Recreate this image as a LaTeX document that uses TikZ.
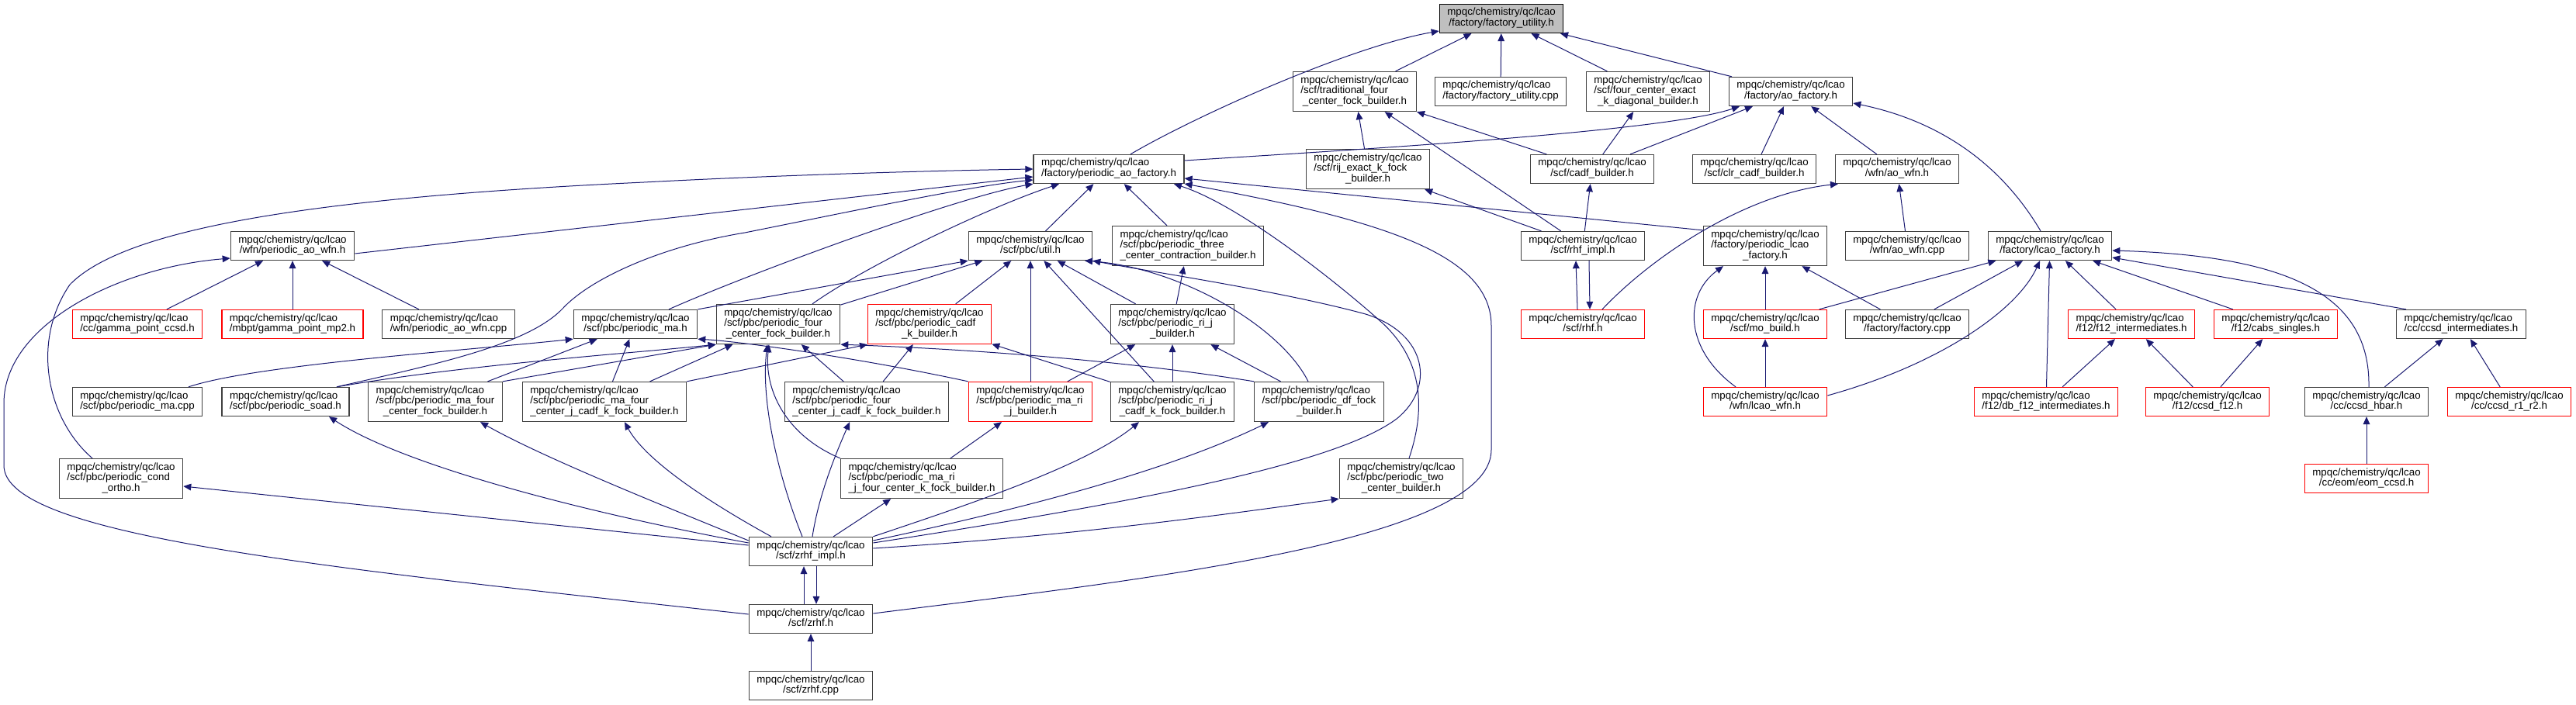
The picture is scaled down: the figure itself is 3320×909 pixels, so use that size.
\documentclass[tikz,border=0pt]{standalone}
\usepackage{fontspec}
\setmainfont{Liberation Sans}
\usepackage{tikz}
\usetikzlibrary{arrows.meta}

\definecolor{edgeblue}{HTML}{191970}
\definecolor{nodegray}{HTML}{404040}
\definecolor{rootgray}{HTML}{BFBFBF}

\newdimen\pxu \pxu=0.75pt

% labels: upper lines flush left, last line centred
\newcommand{\ftwo}[1]{\begin{tabular}{@{}c@{}}\multicolumn{1}{@{}l@{}}{mpqc/chemistry/qc/lcao}\\#1\end{tabular}}
\newcommand{\fthree}[2]{\begin{tabular}{@{}c@{}}\multicolumn{1}{@{}l@{}}{mpqc/chemistry/qc/lcao}\\\multicolumn{1}{@{}l@{}}{#1}\\#2\end{tabular}}

\begin{document}
\begin{tikzpicture}[x=0.75pt,y=-0.75pt,
  hdr/.style={rectangle,draw=nodegray,line width=1pt,fill=white,inner xsep=7.5pt,inner ysep=0pt,
              minimum height=27.75pt,font=\fontsize{10}{10}\selectfont},
  hdrtall/.style={hdr,minimum height=38.25pt},
  trunc/.style={draw=red},
  root/.style={fill=rootgray,draw=black},
  incl/.style={-{Triangle[length=7.5pt,width=6.5pt]},draw=edgeblue,line width=0.75pt},
]
\useasboundingbox (0,0) rectangle (3320,909);

% row 0
\node[hdr,root] (fu) at (1935,24) {\ftwo{/factory/factory\_utility.h}};
% row 1
\node[hdrtall] (tfcfb) at (1746,118) {\fthree{/scf/traditional\_four}{\_center\_fock\_builder.h}};
\node[hdr] (fucpp) at (1934,118) {\ftwo{/factory/factory\_utility.cpp}};
\node[hdrtall] (fcekdb) at (2124,118) {\fthree{/scf/four\_center\_exact}{\_k\_diagonal\_builder.h}};
\node[hdr] (aof) at (2308,118) {\ftwo{/factory/ao\_factory.h}};
% row 2
\node[hdr] (paof) at (1429,218) {\ftwo{/factory/periodic\_ao\_factory.h}};
\node[hdrtall] (rijk) at (1763,218) {\fthree{/scf/rij\_exact\_k\_fock}{\_builder.h}};
\node[hdr] (cadf) at (2052,218) {\ftwo{/scf/cadf\_builder.h}};
\node[hdr] (clr) at (2261,218) {\ftwo{/scf/clr\_cadf\_builder.h}};
\node[hdr] (aowfn) at (2445,218) {\ftwo{/wfn/ao\_wfn.h}};
% row 3
\node[hdr] (paowfn) at (377,317) {\ftwo{/wfn/periodic\_ao\_wfn.h}};
\node[hdr] (util) at (1328,317) {\ftwo{/scf/pbc/util.h}};
\node[hdrtall] (p3c) at (1531,317) {\fthree{/scf/pbc/periodic\_three}{\_center\_contraction\_builder.h}};
\node[hdr] (rhfimpl) at (2040,317) {\ftwo{/scf/rhf\_impl.h}};
\node[hdrtall] (plf) at (2275,317) {\fthree{/factory/periodic\_lcao}{\_factory.h}};
\node[hdr] (aowfncpp) at (2458,317) {\ftwo{/wfn/ao\_wfn.cpp}};
\node[hdr] (lf) at (2642,317) {\ftwo{/factory/lcao\_factory.h}};
% row 4
\node[hdr,trunc] (gpccsd) at (177,418) {\ftwo{/cc/gamma\_point\_ccsd.h}};
\node[hdr,trunc] (gpmp2) at (377,418) {\ftwo{/mbpt/gamma\_point\_mp2.h}};
\node[hdr] (paowfncpp) at (578,418) {\ftwo{/wfn/periodic\_ao\_wfn.cpp}};
\node[hdr] (pma) at (819,418) {\ftwo{/scf/pbc/periodic\_ma.h}};
\node[hdrtall] (p4cf) at (1003,418) {\fthree{/scf/pbc/periodic\_four}{\_center\_fock\_builder.h}};
\node[hdrtall,trunc] (pcadfk) at (1198,418) {\fthree{/scf/pbc/periodic\_cadf}{\_k\_builder.h}};
\node[hdrtall] (prij) at (1511,418) {\fthree{/scf/pbc/periodic\_ri\_j}{\_builder.h}};
\node[hdr,trunc] (rhf) at (2040,418) {\ftwo{/scf/rhf.h}};
\node[hdr,trunc] (mob) at (2275,418) {\ftwo{/scf/mo\_build.h}};
\node[hdr] (fcpp) at (2458,418) {\ftwo{/factory/factory.cpp}};
\node[hdr,trunc] (f12i) at (2747,418) {\ftwo{/f12/f12\_intermediates.h}};
\node[hdr,trunc] (cabs) at (2933,418) {\ftwo{/f12/cabs\_singles.h}};
\node[hdr] (ccsdi) at (3172,418) {\ftwo{/cc/ccsd\_intermediates.h}};
% row 5
\node[hdr] (pmacpp) at (177,518) {\ftwo{/scf/pbc/periodic\_ma.cpp}};
\node[hdr] (soad) at (368,518) {\ftwo{/scf/pbc/periodic\_soad.h}};
\node[hdrtall] (pma4cf) at (561,518) {\fthree{/scf/pbc/periodic\_ma\_four}{\_center\_fock\_builder.h}};
\node[hdrtall] (pma4cjk) at (779,518) {\fthree{/scf/pbc/periodic\_ma\_four}{\_center\_j\_cadf\_k\_fock\_builder.h}};
\node[hdrtall] (p4cjk) at (1117,518) {\fthree{/scf/pbc/periodic\_four}{\_center\_j\_cadf\_k\_fock\_builder.h}};
\node[hdrtall,trunc] (pmarij) at (1328,518) {\fthree{/scf/pbc/periodic\_ma\_ri}{\_j\_builder.h}};
\node[hdrtall] (prijk) at (1511,518) {\fthree{/scf/pbc/periodic\_ri\_j}{\_cadf\_k\_fock\_builder.h}};
\node[hdrtall] (pdf) at (1700,518) {\fthree{/scf/pbc/periodic\_df\_fock}{\_builder.h}};
\node[hdr,trunc] (lwfn) at (2275,518) {\ftwo{/wfn/lcao\_wfn.h}};
\node[hdr,trunc] (dbf12) at (2637,518) {\ftwo{/f12/db\_f12\_intermediates.h}};
\node[hdr,trunc] (ccsdf12) at (2845,518) {\ftwo{/f12/ccsd\_f12.h}};
\node[hdr] (hbar) at (3050,518) {\ftwo{/cc/ccsd\_hbar.h}};
\node[hdr,trunc] (r1r2) at (3234,518) {\ftwo{/cc/ccsd\_r1\_r2.h}};
% row 6
\node[hdrtall] (cortho) at (156,617) {\fthree{/scf/pbc/periodic\_cond}{\_ortho.h}};
\node[hdrtall] (pmarij4k) at (1188,617) {\fthree{/scf/pbc/periodic\_ma\_ri}{\_j\_four\_center\_k\_fock\_builder.h}};
\node[hdrtall] (p2c) at (1806,617) {\fthree{/scf/pbc/periodic\_two}{\_center\_builder.h}};
\node[hdr,trunc] (eom) at (3050,617) {\ftwo{/cc/eom/eom\_ccsd.h}};
% rows 7-9
\node[hdr] (zrhfimpl) at (1045,711) {\ftwo{/scf/zrhf\_impl.h}};
\node[hdr] (zrhf) at (1045,798) {\ftwo{/scf/zrhf.h}};
\node[hdr] (zrhfcpp) at (1045,884) {\ftwo{/scf/zrhf.cpp}};

% factory_utility.h
\draw[incl] ([xshift=28\pxu]paof.north) .. controls (1540,150) and (1740,60) .. ([yshift=-16\pxu]fu.west);
\draw[incl] (tfcfb) -- (fu);
\draw[incl] (fucpp) -- (fu);
\draw[incl] (fcekdb) -- (fu);
\draw[incl] (aof) -- (fu);
% ao_factory.h
\draw[incl] ([yshift=11\pxu]paof.east) .. controls (1800,190) and (2150,168) .. ([xshift=-66\pxu]aof.south);
\draw[incl] (cadf) -- (aof);
\draw[incl] (clr) -- (aof);
\draw[incl] (aowfn) -- (aof);
\draw[incl] ([xshift=-12\pxu]lf.north) .. controls (2590,230) and (2520,160) .. ([yshift=-15\pxu]aof.east);
% rhf side
\draw[incl] (rijk) -- (tfcfb);
\draw[incl] (rhfimpl) -- (tfcfb);
\draw[incl] (cadf) -- (tfcfb);
\draw[incl] (cadf) -- (fcekdb);
\draw[incl] (rhfimpl) -- (cadf);
\draw[incl] (rhfimpl) -- (rijk);
\draw[incl] ([xshift=25\pxu]rhf.north) .. controls (2130,330) and (2250,250) .. ([xshift=-76\pxu]aowfn.south);
\draw[incl] (aowfncpp) -- (aowfn);
\draw[incl] ([xshift=-7\pxu]rhf.north) -- ([xshift=-9\pxu]rhfimpl.south);
\draw[incl] ([xshift=8\pxu]rhfimpl.south) -- ([xshift=9\pxu]rhf.north);
% periodic_ao_factory.h
\draw[incl] ([yshift=-6\pxu]plf.north west) -- ([yshift=-12\pxu]paof.east);
\draw[incl] ([yshift=7\pxu]zrhf.east) .. controls (1450,750) and (1922,700) .. (1922,580) -- (1922,420)
  .. controls (1922,330) and (1790,285) .. ([yshift=-19\pxu]paof.east);
\draw[incl] ([xshift=10\pxu]p2c.north) .. controls (1840,520) and (1830,460) .. (1780,415)
  .. controls (1730,370) and (1600,265) .. ([xshift=84\pxu]paof.south);
\draw[incl] (util) -- (paof);
\draw[incl] (p3c) -- (paof);
\draw[incl] ([xshift=44\pxu]p4cf.north) .. controls (1120,340) and (1280,265) .. ([xshift=-64\pxu]paof.south);
\draw[incl] ([xshift=43\pxu]pma.north) .. controls (960,355) and (1230,255) .. (paof.south west);
\draw[incl] ([xshift=66\pxu]soad.north) .. controls (560,470) and (680,445) .. (725,398)
  .. controls (760,360) and (850,318) .. (960,300) .. controls (1100,272) and (1250,240) .. ([yshift=-14\pxu]paof.west);
\draw[incl] ([yshift=-10\pxu]paowfn.east) -- ([yshift=-10\pxu]paof.west);
\draw[incl] ([xshift=-37\pxu]cortho.north) .. controls (60,540) and (40,440) .. (90,367)
  .. controls (160,295) and (400,255) .. (830,235) .. controls (1000,226) and (1200,220) .. (paof.west);
% util.h
\draw[incl] (pma.north east) -- (util.south west);
\draw[incl] (p4cf) -- (util);
\draw[incl] (pcadfk) -- (util);
\draw[incl] (pmarij) -- (util);
\draw[incl] (prijk) -- (util);
\draw[incl] (prij) -- (util);
\draw[incl] ([xshift=-14\pxu]pdf.north) .. controls (1650,420) and (1520,345) .. ([xshift=70\pxu]util.south);
\draw[incl] ([yshift=11\pxu]zrhfimpl.east) .. controls (1450,650) and (1720,600) .. (1800,540)
  .. controls (1850,500) and (1840,430) .. (1760,405) .. controls (1650,375) and (1480,350) .. (util.south east);
% pbc builders
\draw[incl] (prij) -- (p3c);
\draw[incl] (pmarij) -- (prij);
\draw[incl] (prijk) -- (prij);
\draw[incl] (pdf) -- (prij);
\draw[incl] (p4cjk) -- (pcadfk);
\draw[incl] (prijk) -- (pcadfk);
\draw[incl] (pma4cjk.north east) -- ([xshift=-80\pxu]pcadfk.south);
\draw[incl] ([xshift=-84\pxu]pdf.north) .. controls (1450,465) and (1250,450) .. (p4cf.south east);
\draw[incl] (pmarij.north west) .. controls (1100,460) and (950,440) .. (pma.south east);
\draw[incl] (p4cjk) -- (p4cf);
\draw[incl] (pma4cjk) -- (p4cf);
\draw[incl] ([xshift=66\pxu]soad.north) .. controls (600,470) and (820,455) .. (p4cf.south west);
\draw[incl] (pma4cf.north east) -- (p4cf.south west);
\draw[incl] (pmarij4k.north west) .. controls (1010,560) and (985,500) .. ([xshift=-12\pxu]p4cf.south);
\draw[incl] (pmarij4k) -- (pmarij);
% periodic_ma.h
\draw[incl] ([xshift=66\pxu]pmacpp.north) .. controls (330,470) and (600,452) .. (pma.south west);
\draw[incl] (pma4cf) -- (pma);
\draw[incl] (pma4cjk) -- (pma);
% periodic_ao_wfn.h
\draw[incl] (gpccsd) -- (paowfn);
\draw[incl] (gpmp2) -- (paowfn);
\draw[incl] (paowfncpp) -- (paowfn);
\draw[incl] ([yshift=6\pxu]zrhf.west) .. controls (400,730) and (5,690) .. (5,600) -- (5,520)
  .. controls (5,420) and (150,345) .. ([yshift=-16\pxu]paowfn.west);
% zrhf_impl.h
\draw[incl] ([yshift=8\pxu]zrhfimpl.west) -- ([yshift=-10\pxu]cortho.east);
\draw[incl] ([yshift=11\pxu]zrhfimpl.west) .. controls (750,660) and (520,600) .. ([xshift=56\pxu]soad.south);
\draw[incl] ([yshift=14\pxu]zrhfimpl.west) .. controls (850,650) and (700,590) .. ([xshift=58\pxu]pma4cf.south);
\draw[incl] ([xshift=-51\pxu]zrhfimpl.north) .. controls (900,640) and (830,590) .. ([xshift=26\pxu]pma4cjk.south);
\draw[incl] ([xshift=-11\pxu]zrhfimpl.north) .. controls (1005,620) and (980,520) .. ([xshift=-14\pxu]p4cf.south);
\draw[incl] ([xshift=2\pxu]zrhfimpl.north) .. controls (1055,640) and (1075,590) .. ([xshift=-22\pxu]p4cjk.south);
\draw[incl] (zrhfimpl) -- (pmarij4k);
\draw[incl] (zrhfimpl.north east) .. controls (1250,650) and (1400,600) .. ([xshift=-43\pxu]prijk.south);
\draw[incl] ([yshift=14\pxu]zrhfimpl.east) .. controls (1300,660) and (1500,610) .. ([xshift=-65\pxu]pdf.south);
\draw[incl] ([yshift=4\pxu]zrhfimpl.east) .. controls (1400,690) and (1600,660) .. (p2c.south west);
\draw[incl] ([xshift=-9\pxu]zrhf.north) -- ([xshift=-9\pxu]zrhfimpl.south);
\draw[incl] ([xshift=7\pxu]zrhfimpl.south) -- ([xshift=7\pxu]zrhf.north);
\draw[incl] (zrhfcpp) -- (zrhf);
% lcao factories
\draw[incl] ([xshift=-38\pxu]lwfn.north) .. controls (2170,450) and (2170,380) .. ([xshift=-54\pxu]plf.south);
\draw[incl] (mob) -- (plf);
\draw[incl] (fcpp) -- (plf);
\draw[incl] (lwfn) -- (mob);
\draw[incl] (mob) -- (lf);
\draw[incl] (fcpp) -- (lf);
\draw[incl] ([yshift=8\pxu]lwfn.east) .. controls (2500,470) and (2600,400) .. ([xshift=-13\pxu]lf.south);
\draw[incl] (dbf12) -- (lf);
\draw[incl] (f12i) -- (lf);
\draw[incl] (cabs) -- (lf);
\draw[incl] ([xshift=3\pxu]hbar.north) .. controls (3055,380) and (2950,330) .. ([yshift=-6\pxu]lf.east);
\draw[incl] ([xshift=-71\pxu]ccsdi.north) -- ([yshift=-15\pxu]lf.east);
\draw[incl] (dbf12) -- (f12i);
\draw[incl] (ccsdf12) -- (f12i);
\draw[incl] (ccsdf12) -- (cabs);
\draw[incl] (hbar) -- (ccsdi);
\draw[incl] (r1r2) -- (ccsdi);
\draw[incl] (eom) -- (hbar);
\end{tikzpicture}
\end{document}
